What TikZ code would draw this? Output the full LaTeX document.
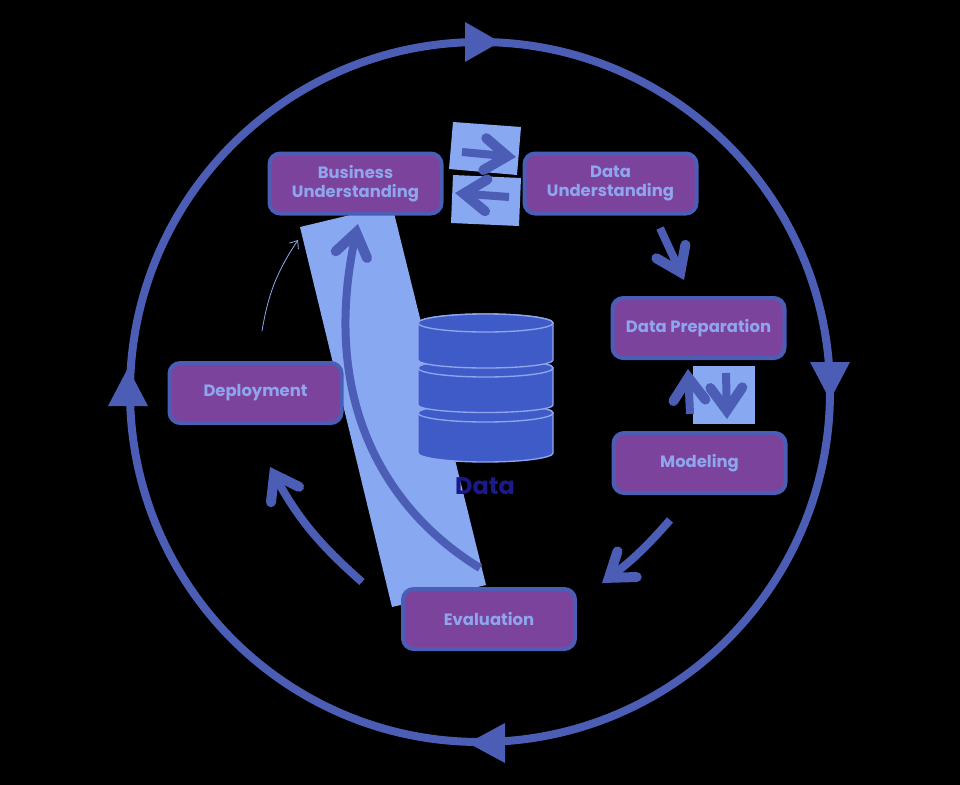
\documentclass[tikz,border=0pt]{standalone}
\usepackage{fontspec}
\setmainfont{Poppins}
\usetikzlibrary{arrows.meta}
\definecolor{ringblue}{HTML}{4C5DB6}
\definecolor{boxpurple}{HTML}{7B439B}
\definecolor{paleblue}{HTML}{88A8F2}
\definecolor{textblue}{HTML}{8FA6EE}
\definecolor{dbblue}{HTML}{3F5BC8}
\definecolor{navy}{HTML}{1B1A8A}
\tikzset{
  phase/.style={draw=ringblue,fill=boxpurple,line width=3pt,rounded corners=8pt,
    minimum width=129pt,minimum height=45pt,inner sep=0pt,align=center,
    text=textblue,font=\bfseries\fontsize{12.3}{14.2}\selectfont},
  flow/.style={draw=ringblue,line width=6pt,-{Straight Barb[length=17pt,width=24pt,line width=7.5pt,line cap=round,line join=miter]}},
  ringhead/.style={fill=ringblue},
  disk/.style={fill=dbblue,draw=textblue,line width=1pt},
}
\begin{document}
\begin{tikzpicture}[x=0.75pt,y=-0.75pt]
  \fill[black] (0,0) rectangle (960,785);
  \useasboundingbox (0,0) rectangle (960,785);

  \coordinate (o) at (480,392);
  \draw[ringblue,line width=6pt] (o) circle [radius=262.5pt];
  \fill[ringhead] (465,22) -- (500,42) -- (465,62) -- cycle;
  \fill[ringhead] (810,362) -- (850,362) -- (830,400) -- cycle;
  \fill[ringhead] (505,723) -- (505,763) -- (468,743) -- cycle;
  \fill[ringhead] (108,406) -- (148,406) -- (128,368) -- cycle;

  % band behind the data store
  \fill[paleblue] (300,227) -- (392,205) -- (486,585) -- (392,607) -- cycle;
  \fill[paleblue] (453,122) -- (521,127) -- (517,175) -- (449,169) -- cycle;
  \fill[paleblue] (453,175) -- (521,178) -- (519,226) -- (451,223) -- cycle;
  \fill[paleblue] (693,366) rectangle (755,424);

  \node[phase] (bu) at (355.5,183.5) {Business\\Understanding};
  \node[phase] (du) at (610.5,183.5) {Data\\Understanding};
  \node[phase] (dp) at (698.5,328) {Data Preparation};
  \node[phase] (mo) at (699.5,463) {Modeling};
  \node[phase] (de) at (255.5,393) {Deployment};
  \node[phase] (ev) at (489,619) {Evaluation};

  % data store
  \draw[disk] (418,413) -- (418,453) arc [start angle=180,end angle=0,x radius=67.5,y radius=9] -- (553,413)
    arc [start angle=0,end angle=-180,x radius=67.5,y radius=9] -- cycle;
  \draw[disk] (485.5,413) ellipse [x radius=67.5,y radius=9];
  \draw[disk] (418,368) -- (418,405) arc [start angle=180,end angle=0,x radius=67.5,y radius=7.5] -- (553,368)
    arc [start angle=0,end angle=-180,x radius=67.5,y radius=9] -- cycle;
  \draw[disk] (485.5,368) ellipse [x radius=67.5,y radius=9];
  \draw[disk] (418,323) -- (418,360) arc [start angle=180,end angle=0,x radius=67.5,y radius=8] -- (553,323)
    arc [start angle=0,end angle=-180,x radius=67.5,y radius=9] -- cycle;
  \draw[disk] (485.5,323) ellipse [x radius=67.5,y radius=9];
  \node[text=navy,font=\bfseries\fontsize{18}{20}\selectfont,inner sep=0pt] (dt) at (485,486) {Data};

  % arrows
  \coordinate (a1) at (462,152);  \coordinate (a2) at (516,157);
  \coordinate (b1) at (509,197);  \coordinate (b2) at (455,193);
  \coordinate (c1) at (660,228);  \coordinate (c2) at (684,280);
  \coordinate (d1) at (690,414);  \coordinate (d2) at (688,369);
  \coordinate (e1) at (726,373);  \coordinate (e2) at (727,419);
  \coordinate (f1) at (670,520);  \coordinate (f2) at (602,583);
  \coordinate (g1) at (362,582);  \coordinate (g2) at (270,467);
  \coordinate (h1) at (480,568);  \coordinate (h2) at (358,224);
  \coordinate (i1) at (262,331);  \coordinate (i2) at (298,240);

  \draw[flow] (a1) -- (a2);
  \draw[flow] (b1) -- (b2);
  \draw[flow] (c1) -- (c2);
  \draw[flow] (d1) -- (d2);
  \draw[flow] (e1) -- (e2);
  \draw[flow] (f1) to[bend left=6] (f2);
  \draw[flow] (g1) to[bend left=10] (g2);
  \draw[flow] (h1) .. controls (385,510) and (320,400) .. (h2);
  \draw[textblue,line width=0.6pt,-{Straight Barb[length=5pt,width=8pt]}] (i1) to[bend left=12] (i2);
\end{tikzpicture}
\end{document}
